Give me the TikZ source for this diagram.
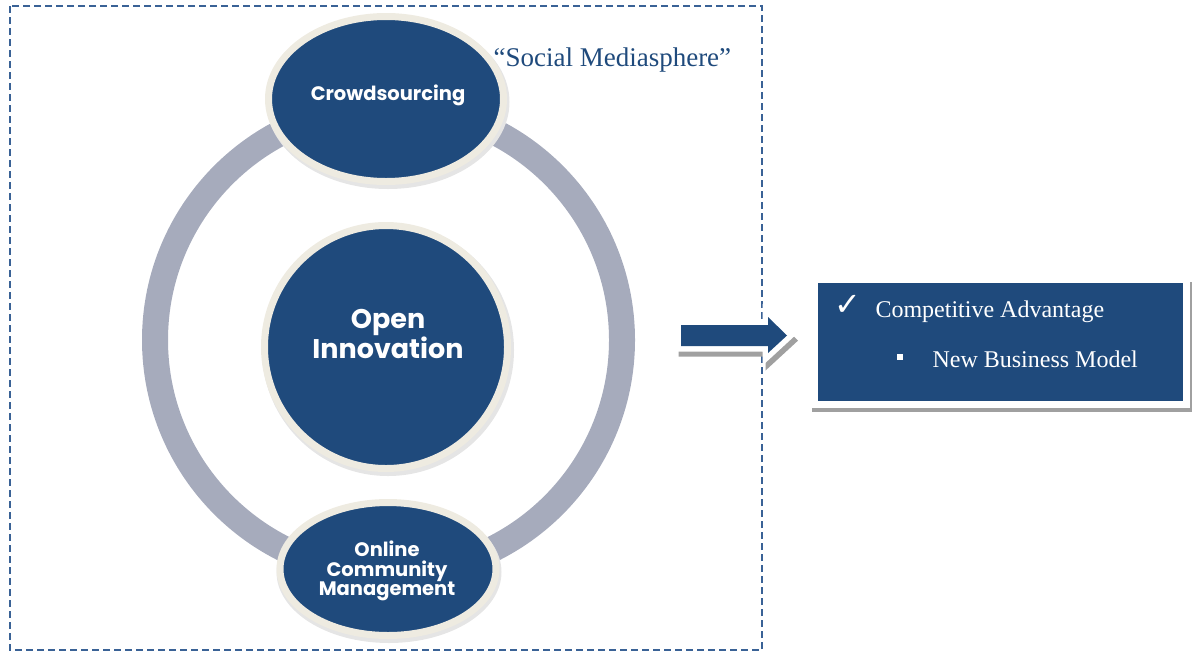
\documentclass[tikz,border=0pt]{standalone}
\usepackage{fontspec}
\setmainfont{Liberation Serif}
\newfontfamily\gothic{Poppins}
\newfontfamily\symb{DejaVu Sans}
\usetikzlibrary{shapes.geometric}
\definecolor{navy}{HTML}{1F4A7C}
\definecolor{cream}{HTML}{EEEBE1}
\definecolor{ringgrey}{HTML}{A6ABBC}
\definecolor{dashblue}{HTML}{3A6296}
\definecolor{shadowgrey}{HTML}{A0A0A0}
\tikzset{
  bubble/.style={ellipse, fill=navy, draw=cream, line width=7pt, inner sep=0pt,
    text=white, font=\gothic\bfseries, align=center},
  bubshadow/.style={ellipse, fill=black!10, draw=none, inner sep=0pt},
  frame/.style={draw=dashblue, line width=2.6pt, dash pattern=on 7pt off 4pt},
  serif/.style={font=\rmfamily, text=navy},
}
\begin{document}
\begin{tikzpicture}[x=1pt,y=-1pt]
\useasboundingbox (0,0) rectangle (1198,654);
% dashed frame
\draw[frame] (10,6) rectangle (762,650);
% ring
\node[circle, draw=ringgrey, line width=26pt, minimum size=467pt, inner sep=0pt] (ring) at (388.5,340) {};
% shadows
\node[bubshadow, minimum width=243pt, minimum height=174pt] (s1) at (388,102) {};
\node[bubshadow, minimum width=252pt, minimum height=252pt] (s2) at (388,350) {};
\node[bubshadow, minimum width=225pt, minimum height=142pt] (s3) at (389,572) {};
% bubbles
\node[bubble, minimum width=235pt, minimum height=165pt] (crowd) at (386,99) {};
\node[text=white, font=\gothic\bfseries\fontsize{19.5}{22}\selectfont] (crowdtxt) at (388,95) {Crowdsourcing};
\node[bubble, minimum width=243pt, minimum height=243pt] (open) at (386,347) {};
\node[text=white, align=center, font=\gothic\bfseries\fontsize{27}{27}\selectfont] (opentxt) at (388,334) {Open\\Innovation};
\node[bubble, minimum width=216pt, minimum height=133pt] (online) at (388,569) {};
\node[text=white, align=center, font=\gothic\bfseries\fontsize{19.5}{19.5}\selectfont] (onlinetxt) at (387,571) {Online\\Community\\Management};
% title
\node[serif, font=\rmfamily\fontsize{27}{30}\selectfont, anchor=west] (title) at (490,60) {“Social Mediasphere”};
% block arrow
\def\arrowpath{(681,325) -- (768,325) -- (768,317) -- (787,335.5) -- (768,353) -- (768,346) -- (681,346) -- cycle}
\fill[shadowgrey, draw=shadowgrey, line width=11pt, line join=miter, shift={(3,5)}] \arrowpath;
\fill[white, draw=white, line width=11pt, line join=miter] \arrowpath;
\fill[navy] \arrowpath;
% result box
\fill[shadowgrey] (812,282) rectangle (1192,412);
\node[fill=white, minimum width=380pt, minimum height=130pt, inner sep=0pt] (boxframe) at (1000,343) {};
\node[fill=navy, minimum width=365pt, minimum height=118pt, inner sep=0pt] (box) at (1000.5,342) {};
\node[text=white, font=\symb\fontsize{32}{34}\selectfont, anchor=center] (check) at (848,305) {✓};
\node[text=white, font=\rmfamily\fontsize{24}{28}\selectfont, anchor=base west] (comp) at (872,317) {Competitive Advantage};
\node[fill=white, minimum size=6pt, inner sep=0pt] (bullet) at (900,357) {};
\node[text=white, font=\rmfamily\fontsize{24}{28}\selectfont, anchor=base west] (nbm) at (929,367) {New Business Model};
\end{tikzpicture}
\end{document}
